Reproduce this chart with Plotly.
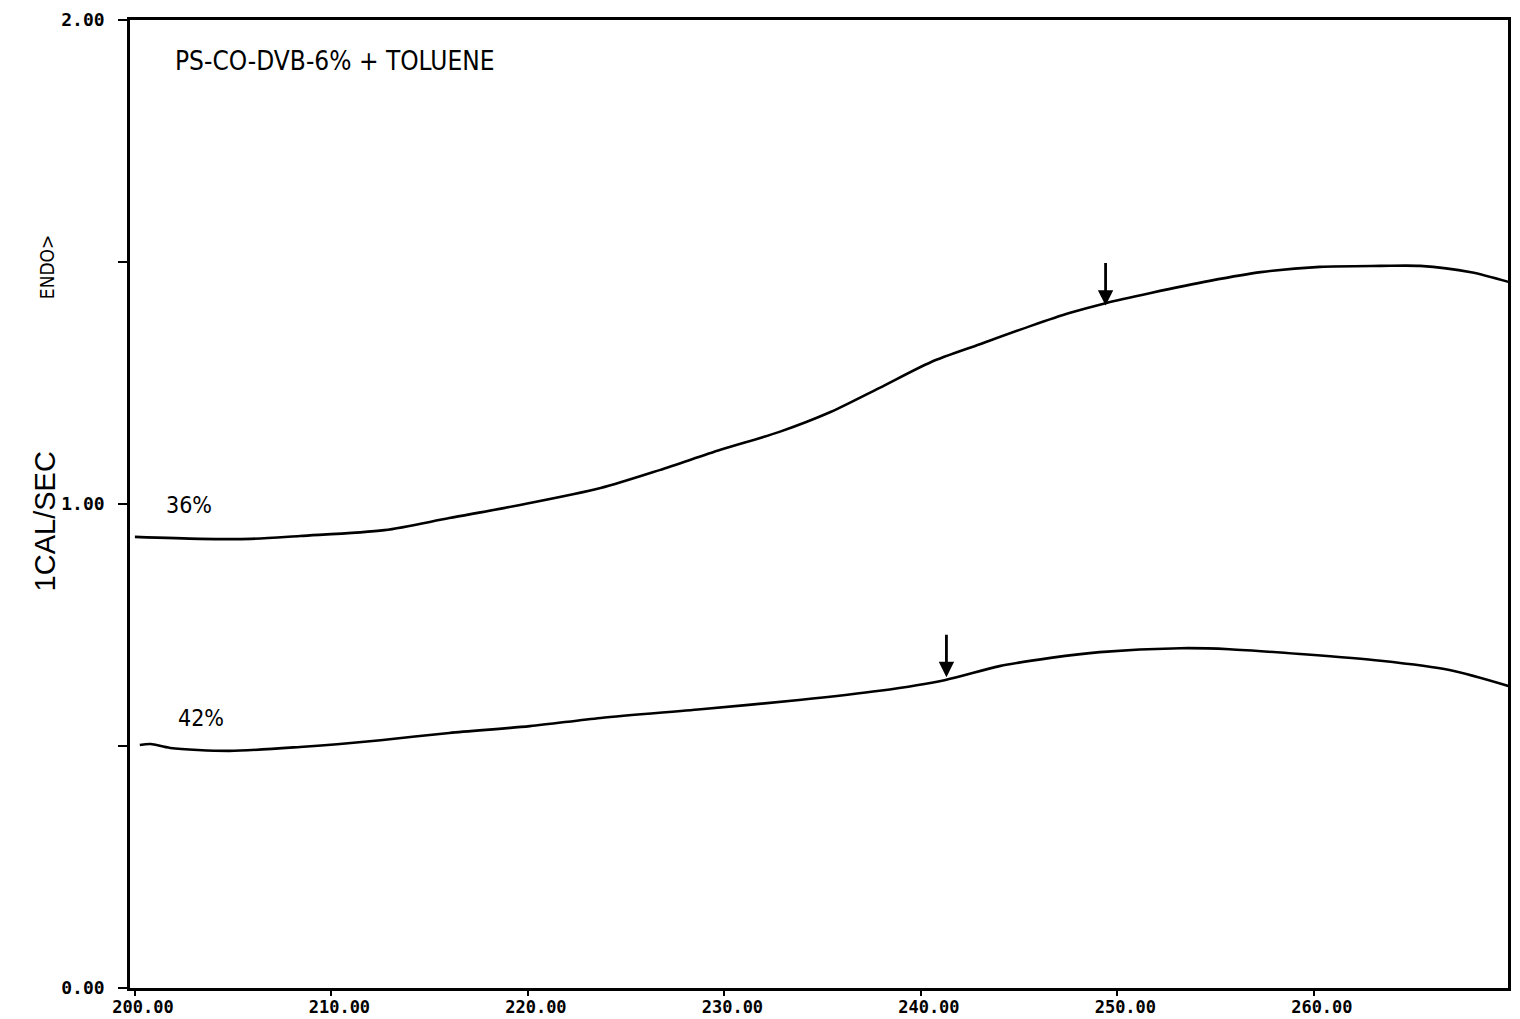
import plotly.graph_objects as go

# Temperature (x) and heat flow (mcal/sec) readings
temp_36 = [200.0, 203.3, 205.9, 208.4, 212.7, 216.0, 219.6, 223.7, 226.7, 229.8, 232.8,
           235.4, 237.9, 240.5, 243.0, 245.6, 247.6, 249.4, 251.7, 254.7, 257.3, 260.3,
           263.4, 265.4, 268.0, 269.9]
flow_36 = [0.932, 0.928, 0.928, 0.934, 0.946, 0.971, 0.998, 1.033, 1.070, 1.112, 1.149,
           1.190, 1.240, 1.293, 1.330, 1.368, 1.395, 1.415, 1.436, 1.461, 1.479, 1.490,
           1.492, 1.492, 1.479, 1.459]

temp_42 = [200.25, 200.8, 201.8, 204.8, 208.4, 212.5, 216.0, 220.1, 223.7, 228.8, 233.8,
           237.9, 241.2, 244.0, 246.6, 249.1, 253.2, 255.7, 259.3, 263.4, 266.9, 269.9]
flow_42 = [0.502, 0.504, 0.496, 0.490, 0.498, 0.512, 0.527, 0.541, 0.558, 0.576, 0.595,
           0.614, 0.636, 0.665, 0.682, 0.694, 0.702, 0.700, 0.690, 0.676, 0.657, 0.624]

# Arrow markers (tip positions)
arrow_x = [249.4, 241.3]
arrow_y = [1.41, 0.642]

x_ticks = [200, 210, 220, 230, 240, 250, 260]
x_tick_text = ["200.00", "210.00", "220.00", "230.00", "240.00", "250.00", "260.00"]
y_ticks = [0, 0.5, 1.0, 1.5, 2.0]
y_tick_text = ["0.00", "", "1.00", "", "2.00"]

title_text = "PS-CO-DVB-6% + TOLUENE"
series_labels = ["36%", "42%"]

fig = go.Figure()
for xs, ys in [(temp_36, flow_36), (temp_42, flow_42)]:
    fig.add_trace(go.Scatter(x=xs, y=ys, mode="lines",
                             line=dict(color="black", width=2.6, shape="spline", smoothing=0.8),
                             showlegend=False, hoverinfo="skip"))

narrow = "DejaVu Sans Condensed, Liberation Sans Narrow, sans-serif"

fig.add_annotation(x=0.031, y=0.958, xref="paper", yref="paper", text=title_text,
                   showarrow=False, xanchor="left", yanchor="middle",
                   font=dict(family=narrow, size=26, color="black"))
fig.add_annotation(x=202.75, y=0.997, text=series_labels[0], showarrow=False,
                   xanchor="center", yanchor="middle",
                   font=dict(family=narrow, size=23, color="black"))
fig.add_annotation(x=203.35, y=0.558, text=series_labels[1], showarrow=False,
                   xanchor="center", yanchor="middle",
                   font=dict(family=narrow, size=23, color="black"))

for ax_, ay_ in zip(arrow_x, arrow_y):
    fig.add_annotation(x=ax_, y=ay_, ax=0, ay=-44, showarrow=True,
                       arrowhead=2, arrowsize=1.1, arrowwidth=2.8, arrowcolor="black",
                       text="")

fig.add_annotation(x=-0.0617, y=0.482, xref="paper", yref="paper", text="1CAL/SEC",
                   textangle=-90, showarrow=False, xanchor="center", yanchor="middle",
                   font=dict(family="Liberation Sans, sans-serif", size=29, color="black"))
fig.add_annotation(x=-0.060, y=0.745, xref="paper", yref="paper", text="ENDO>",
                   textangle=-90, showarrow=False, xanchor="center", yanchor="middle",
                   font=dict(family=narrow, size=19, color="black"))

fig.update_xaxes(range=[199.75, 269.88], tickvals=x_ticks, ticktext=x_tick_text,
                 showline=True, linecolor="black", linewidth=2.6, mirror=True,
                 ticks="outside", ticklen=5, tickwidth=2, tickcolor="black",
                 ticklabelshift=8, ticklabelstandoff=-3, automargin=False,
                 showgrid=False, zeroline=False,
                 tickfont=dict(family="DejaVu Sans Mono", size=17, color="black", weight="bold"))
fig.update_yaxes(range=[0, 2], tickvals=y_ticks, ticktext=y_tick_text,
                 showline=True, linecolor="black", linewidth=2.6, mirror=True,
                 ticks="outside", ticklen=9, tickwidth=2, tickcolor="black",
                 ticklabelstandoff=10, automargin=False,
                 showgrid=False, zeroline=False,
                 tickfont=dict(family="DejaVu Sans Mono", size=18, color="black", weight="bold"))

fig.update_layout(width=1520, height=1019, plot_bgcolor="white", paper_bgcolor="white",
                  margin=dict(l=130, r=12, t=20, b=31, autoexpand=False), showlegend=False)

fig.write_html("out.html")
